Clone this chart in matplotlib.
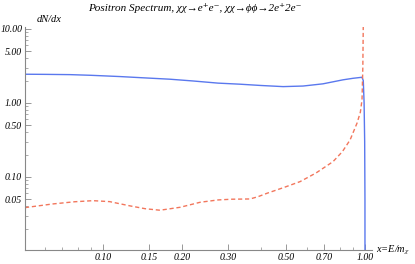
import matplotlib
matplotlib.use("Agg")
import matplotlib.pyplot as plt
from matplotlib.ticker import FixedLocator, LogLocator, NullFormatter

# direct channel chi chi -> e+ e-
x_direct = [0.0504, 0.06, 0.0748, 0.09, 0.116, 0.14, 0.180, 0.22, 0.275, 0.333,
            0.40, 0.487, 0.58, 0.691, 0.824, 0.90, 0.974, 0.985, 0.992, 0.997,
            0.9995, 1.0]
y_direct = [2.44, 2.43, 2.41, 2.36, 2.27, 2.19, 2.09, 1.98, 1.85, 1.79,
            1.72, 1.66, 1.69, 1.81, 2.05, 2.15, 2.22, 2.0, 1.0, 0.3,
            0.05, 0.001]

# cascade chi chi -> phi phi -> 2e+ 2e-
x_cascade = [0.0504, 0.0645, 0.078, 0.0916, 0.106, 0.127, 0.145, 0.165, 0.197, 0.235,
             0.275, 0.31, 0.364, 0.39, 0.423, 0.49, 0.565, 0.65, 0.755, 0.82,
             0.877, 0.932, 0.96, 0.974, 0.981, 0.985]
y_cascade = [0.0385, 0.0432, 0.0462, 0.0478, 0.0464, 0.0406, 0.0372, 0.0355, 0.0389, 0.0455,
             0.0489, 0.0500, 0.0504, 0.054, 0.0602, 0.072, 0.0864, 0.113, 0.161, 0.22,
             0.316, 0.532, 0.75, 1.1, 3.0, 12.0]

xticks = [0.10, 0.15, 0.20, 0.30, 0.50, 0.70, 1.00]
yticks = [0.05, 0.10, 0.50, 1.00, 5.00, 10.00]

plt.rcParams['mathtext.fontset'] = 'stix'
plt.rcParams['font.family'] = ['Liberation Serif', 'DejaVu Serif']
plt.rcParams['font.style'] = 'italic'

fig = plt.figure(figsize=(4.15, 2.64), dpi=100)
ax = fig.add_axes([0.0602, 0.053, 0.8361, 0.8447])

ax.plot(x_direct, y_direct, color='#5a78ee', lw=1.0)
ax.plot(x_cascade, y_cascade, color='#f2765c', lw=1.0, dashes=(3, 2))

ax.set_xscale('log')
ax.set_yscale('log')
ax.set_xlim(0.0504, 1.063)
ax.set_ylim(0.0103, 10.6)

for s in ['top', 'right']:
    ax.spines[s].set_visible(False)
for s in ['left', 'bottom']:
    ax.spines[s].set_color('#888888')
    ax.spines[s].set_linewidth(0.8)

ax.xaxis.set_major_locator(FixedLocator(xticks))
ax.set_xticklabels(['%.2f' % t for t in xticks])
ax.yaxis.set_major_locator(FixedLocator(yticks))
ax.set_yticklabels(['%.2f' % t for t in yticks])
ax.xaxis.set_minor_locator(LogLocator(subs=range(1, 10)))
ax.yaxis.set_minor_locator(LogLocator(subs=range(1, 10)))
ax.xaxis.set_minor_formatter(NullFormatter())
ax.yaxis.set_minor_formatter(NullFormatter())
ax.tick_params(which='major', direction='in', length=4, width=0.6, color='#888888',
               labelsize=7, pad=2)
ax.tick_params(which='minor', direction='in', length=2, width=0.5, color='#888888')

fig.text(0.47, 0.97, 'Positron Spectrum, χχ→e⁺e⁻, χχ→ϕϕ→2e⁺2e⁻',
         ha='center', va='center', fontsize=8)
fig.text(0.088, 0.928, 'dN/dx', ha='left', va='center', fontsize=7.5)
fig.text(0.905, 0.053, r'x=E/m$_{\chi}$', ha='left', va='center', fontsize=7.5)

fig.savefig('out.png', dpi=100)
